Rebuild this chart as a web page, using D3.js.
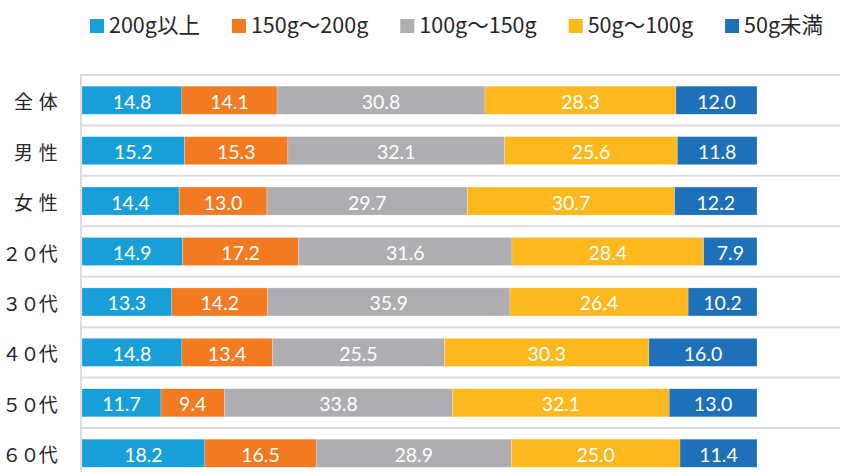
<!DOCTYPE html>
<html>
<head>
<meta charset="utf-8">
<script src="https://cdn.jsdelivr.net/npm/d3@7"></script>
<style>
  body { margin: 0; background: #fff; }
  svg { display: block; }
</style>
</head>
<body>
<div id="chart"></div>
<script>
var categories = ["全 体", "男 性", "女 性", "２０代", "３０代", "４０代", "５０代", "６０代"]
var seriesNames = ["200g以上", "150g～200g", "100g～150g", "50g～100g", "50g未満"]
var colors = ["#189fd9", "#f27b21", "#aeaeb2", "#fcb81c", "#1e70b8"]

var s200over = [14.8, 15.2, 14.4, 14.9, 13.3, 14.8, 11.7, 18.2]
var s150to200 = [14.1, 15.3, 13.0, 17.2, 14.2, 13.4, 9.4, 16.5]
var s100to150 = [30.8, 32.1, 29.7, 31.6, 35.9, 25.5, 33.8, 28.9]
var s50to100 = [28.3, 25.6, 30.7, 28.4, 26.4, 30.3, 32.1, 25.0]
var s50under = [12.0, 11.8, 12.2, 7.9, 10.2, 16.0, 13.0, 11.4]

var start = function () {
  var W = 851, H = 472
  var series = [s200over, s150to200, s100to150, s50to100, s50under]

  // rows for d3.stack
  var rows = categories.map(function (c, i) {
    var r = { cat: c }
    seriesNames.forEach(function (n, k) { r[n] = series[k][i] })
    return r
  })
  var stacked = d3.stack().keys(seriesNames)(rows)

  var svg = d3.select("#chart").append("svg")
    .attr("width", W)
    .attr("height", H)

  var x = d3.scaleLinear().domain([0, 100]).range([82, 757])
  var y = d3.scaleBand()
    .domain(categories)
    .range([75, 75 + 8 * 50.43])
    .paddingInner(0.444)
    .paddingOuter(0.222)

  var step = y.step()
  var top0 = function (c) { return y(c) - step * y.paddingOuter() }

  // grid
  var grid = svg.append("g")
  grid.selectAll("line.h")
    .data(categories)
    .join("line")
    .attr("class", "h")
    .attr("x1", 80)
    .attr("x2", 840)
    .attr("y1", d => top0(d))
    .attr("y2", d => top0(d))
    .attr("stroke", "#dcdcdc")
    .attr("stroke-width", 2)
  grid.append("line")
    .attr("x1", 81).attr("x2", 81)
    .attr("y1", 74).attr("y2", H)
    .attr("stroke", "#dcdcdc")
    .attr("stroke-width", 2)

  // bars
  var layer = svg.append("g").selectAll("g")
    .data(stacked)
    .join("g")
    .attr("fill", (d, i) => colors[i])

  layer.selectAll("rect")
    .data(d => d)
    .join("rect")
    .attr("x", d => x(d[0]))
    .attr("y", d => y(d.data.cat))
    .attr("width", d => x(d[1]) - x(d[0]))
    .attr("height", y.bandwidth())
    .attr("stroke", "rgba(255,255,255,0.35)")
    .attr("stroke-width", 0.6)

  layer.selectAll("text")
    .data(d => d)
    .join("text")
    .attr("x", d => (x(d[0]) + x(d[1])) / 2)
    .attr("y", d => y(d.data.cat) + y.bandwidth() / 2 + 1)
    .attr("text-anchor", "middle")
    .attr("dominant-baseline", "central")
    .attr("fill", "#fff")
    .attr("font-family", "Lato, 'Open Sans', sans-serif")
    .attr("font-size", 19.5)
    .text(d => (d[1] - d[0]).toFixed(1))

  // category labels, one full-width cell per character
  var cell = 18.3
  var labels = svg.append("g").selectAll("text")
    .data(categories)
    .join("text")
    .attr("y", d => y(d) + y.bandwidth() / 2)
    .attr("dominant-baseline", "central")
    .attr("text-anchor", "middle")
    .attr("fill", "#262626")
    .attr("font-family", "'Noto Sans CJK JP', sans-serif")
    .attr("font-size", 19)

  labels.each(function (d) {
    var chars = d.split("")
    var widths = chars.map(ch => ch == " " ? 6.5 : cell)
    var xr = 57.5 - d3.sum(widths)
    var t = d3.select(this)
    chars.forEach(function (ch, i) {
      if (ch != " ") {
        t.append("tspan").attr("x", xr + widths[i] / 2).text(ch)
      }
      xr += widths[i]
    })
  })

  // legend
  var legend = svg.append("g")
  var lx = 90
  seriesNames.forEach(function (n, i) {
    legend.append("rect")
      .attr("x", lx).attr("y", 19)
      .attr("width", 14).attr("height", 14)
      .attr("fill", colors[i])
    var t = legend.append("text")
      .attr("x", lx + 19)
      .attr("y", 33)
      .attr("fill", "#262626")
      .attr("font-family", "'Noto Sans CJK JP', sans-serif")
      .attr("font-size", 21.5)
      .text(n)
    lx += 19 + t.node().getComputedTextLength() + 32
  })
}
start()
</script>
</body>
</html>
